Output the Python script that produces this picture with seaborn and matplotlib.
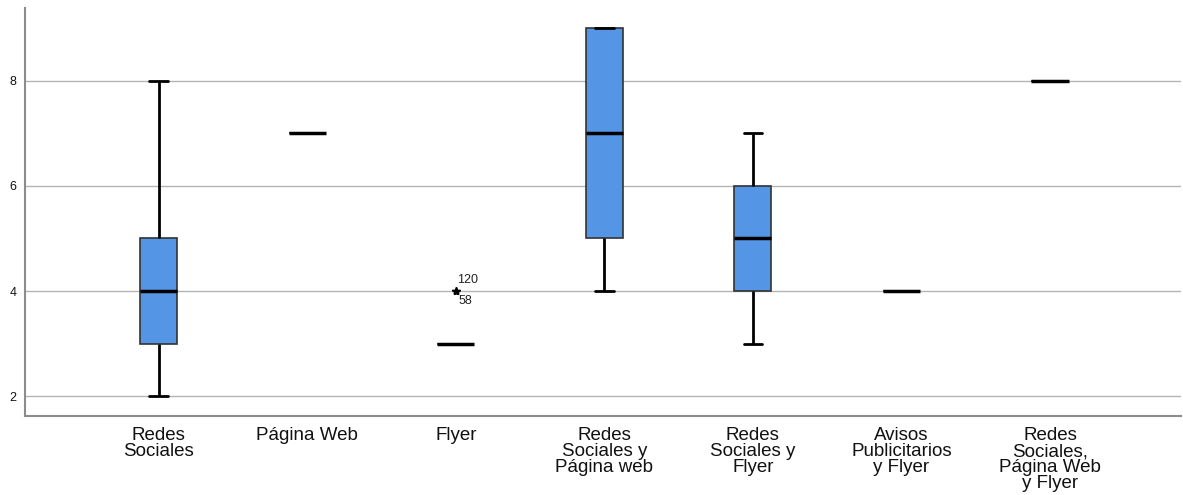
import pandas as pd
import matplotlib
matplotlib.use("Agg")
import matplotlib.pyplot as plt
import seaborn as sns

# categorias del eje x
categorias = [
    "Redes\nSociales",
    "Página Web",
    "Flyer",
    "Redes\nSociales y\nPágina web",
    "Redes\nSociales y\nFlyer",
    "Avisos\nPublicitarios\ny Flyer",
    "Redes\nSociales,\nPágina Web\ny Flyer",
]

redes_sociales = [2, 3, 3, 4, 4, 4, 5, 5, 8]
pagina_web = [7, 7, 7]
flyer = [3, 3, 3, 3, 3, 3, 3, 3, 4, 4]
redes_pagina = [4, 5, 5, 7, 7, 9, 9, 9, 9]
redes_flyer = [3, 4, 4, 5, 5, 5, 6, 6, 7]
avisos_flyer = [4, 4, 4]
redes_pagina_flyer = [8, 8, 8]

# etiquetas de casos atipicos en Flyer
etiquetas_atipicos = ["120", "58"]

grupos = [redes_sociales, pagina_web, flyer, redes_pagina,
          redes_flyer, avisos_flyer, redes_pagina_flyer]

filas = []
for cat, valores in zip(categorias, grupos):
    for v in valores:
        filas.append({"categoria": cat, "valor": v})
dane = pd.DataFrame(filas)

sns.set_style("white")
plt.rcParams["font.family"] = ["Liberation Sans", "DejaVu Sans"]

fig = plt.figure(figsize=(11.83, 4.95), dpi=100)
ax = fig.add_axes([0.0211, 0.1596, 0.977, 0.8244])

sns.boxplot(data=dane, x="categoria", y="valor", order=categorias,
            color="#5495e5", width=0.25, whis=1.5, ax=ax,
            boxprops=dict(facecolor="#5495e5", edgecolor="#333333", linewidth=1.2),
            medianprops=dict(color="black", linewidth=2.5),
            whiskerprops=dict(color="black", linewidth=2),
            capprops=dict(color="black", linewidth=2),
            flierprops=dict(marker="*", markersize=6, markerfacecolor="black",
                            markeredgecolor="black"))

# etiquetas de los atipicos
ax.annotate(etiquetas_atipicos[0], xy=(2, 4), xytext=(1, 8), textcoords="offset points",
            fontsize=9, ha="left", va="center", color="#222222")
ax.annotate(etiquetas_atipicos[1], xy=(2, 4), xytext=(2, -7), textcoords="offset points",
            fontsize=9, ha="left", va="center", color="#222222")

ax.set_xlim(-0.9, 6.88)
ax.set_ylim(1.62, 9.39)
ax.set_yticks([2, 4, 6, 8])
ax.yaxis.grid(True, color="#b4b4b4", linewidth=1)
ax.set_axisbelow(True)
ax.set_xlabel("")
ax.set_ylabel("")

for lado in ["top", "right"]:
    ax.spines[lado].set_visible(False)
for lado in ["left", "bottom"]:
    ax.spines[lado].set_color("#8c8c8c")
    ax.spines[lado].set_linewidth(1.5)

ax.tick_params(axis="both", length=0, labelcolor="#111111")
ax.tick_params(axis="y", labelsize=9, pad=6)
ax.tick_params(axis="x", labelsize=13.5, pad=8)
for t in ax.get_xticklabels():
    t.set_linespacing(0.92)

fig.savefig("out.png", dpi=100)
